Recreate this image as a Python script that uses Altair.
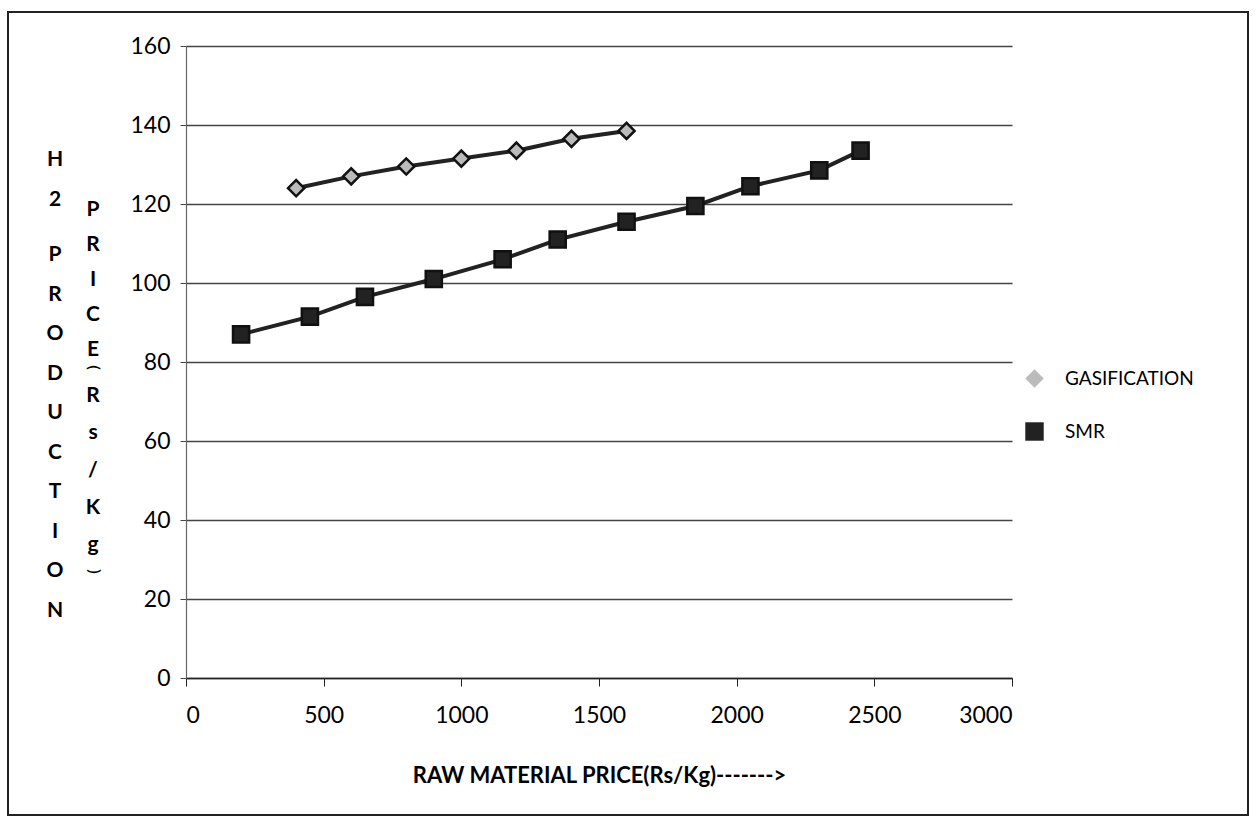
import altair as alt
import pandas as pd

gas_x = [400, 600, 800, 1000, 1200, 1400, 1600]
gas_y = [124, 127, 129.5, 131.5, 133.5, 136.5, 138.5]
smr_x = [200, 450, 650, 900, 1150, 1350, 1600, 1850, 2050, 2300, 2450]
smr_y = [87, 91.5, 96.5, 101, 106, 111, 115.5, 119.5, 124.5, 128.5, 133.5]
series = ["GASIFICATION", "SMR"]
x_ticks = [0, 500, 1000, 1500, 2000, 2500, 3000]
y_ticks = [0, 20, 40, 60, 80, 100, 120, 140, 160]

df = pd.concat([
    pd.DataFrame({"x": gas_x, "y": gas_y, "s": series[0]}),
    pd.DataFrame({"x": smr_x, "y": smr_y, "s": series[1]}),
])
one = pd.DataFrame({"k": [0]})

FONT = "Lato"
W, H = 826, 632

xenc = alt.X("x:Q", scale=alt.Scale(domain=[0, 3000]),
             axis=alt.Axis(values=x_ticks, format="d", title="RAW MATERIAL PRICE(Rs/Kg)------->",
                           grid=False, tickSize=8, tickColor="#222", domainColor="#222",
                           domainWidth=1.5, labelFontSize=23, labelPadding=18,
                           labelColor="black", labelFont=FONT, titleFont=FONT,
                           titleFontSize=22, titleFontWeight="bold", titleColor="black",
                           titlePadding=38))
yenc = alt.Y("y:Q", scale=alt.Scale(domain=[0, 160]),
             axis=alt.Axis(values=y_ticks, format="d", title=None, grid=True, gridColor="#444",
                           gridWidth=1.3, tickSize=6, tickColor="#444",
                           domainColor="#666", domainWidth=1.2, labelFontSize=23,
                           labelPadding=10, labelColor="black", labelFont=FONT))

lines = alt.Chart(df).mark_line(strokeWidth=4, color="#222").encode(
    x=xenc, y=yenc, detail="s:N")

points = alt.Chart(df).mark_point(size=260, filled=False, strokeWidth=2.5, opacity=1).encode(
    x="x:Q", y="y:Q",
    shape=alt.Shape("s:N", scale=alt.Scale(domain=series, range=["diamond", "square"]),
                    legend=alt.Legend(title=None, orient="none", legendX=838, legendY=322,
                                      labelFont=FONT, labelFontSize=19, labelColor="black",
                                      rowPadding=24, symbolSize=340, symbolStrokeWidth=2.5,
                                      symbolStrokeColor="#111", labelOffset=20)),
    fill=alt.Fill("s:N", scale=alt.Scale(domain=series, range=["#bbbbbb", "#222222"]),
                  legend=None),
    stroke=alt.value("#111"),
)

def vtext(txt, x, y, lh, size=21):
    return alt.Chart(one).mark_text(
        text=txt, lineBreak="\n", lineHeight=lh, font=FONT, fontSize=size,
        fontWeight="bold", baseline="top", align="center", color="black"
    ).encode(x=alt.value(x), y=alt.value(y))

col1a = vtext("H\n2", -131, 103, 40)
col1b = vtext("P\nR\nO\nD\nU\nC\nT\nI\nO\nN", -131, 198, 39.5)
col2a = vtext("P\nR\nI\nC\nE", -93, 153, 35)
col2b = vtext("\u23dc", -93, 322, 12, size=14)
col2c = vtext("R\ns\n/\nK\ng", -93, 339, 37.3)
col2d = vtext("\u23dd", -93, 512, 12, size=14)

border = alt.Chart(one).mark_rect(fill=None, stroke="#222", strokeWidth=2).encode(
    x=alt.value(-178), x2=alt.value(1062), y=alt.value(-34), y2=alt.value(769))

chart = alt.layer(lines, points, col1a, col1b, col2a, col2b, col2c, col2d, border).properties(
    width=W, height=H,
    autosize=alt.AutoSizeParams(type="none"),
    padding={"left": 186, "top": 46, "right": 244, "bottom": 141},
    background="white",
).configure_view(stroke=None)

chart.save("out.html", embed_options={"renderer": "svg", "actions": False})
